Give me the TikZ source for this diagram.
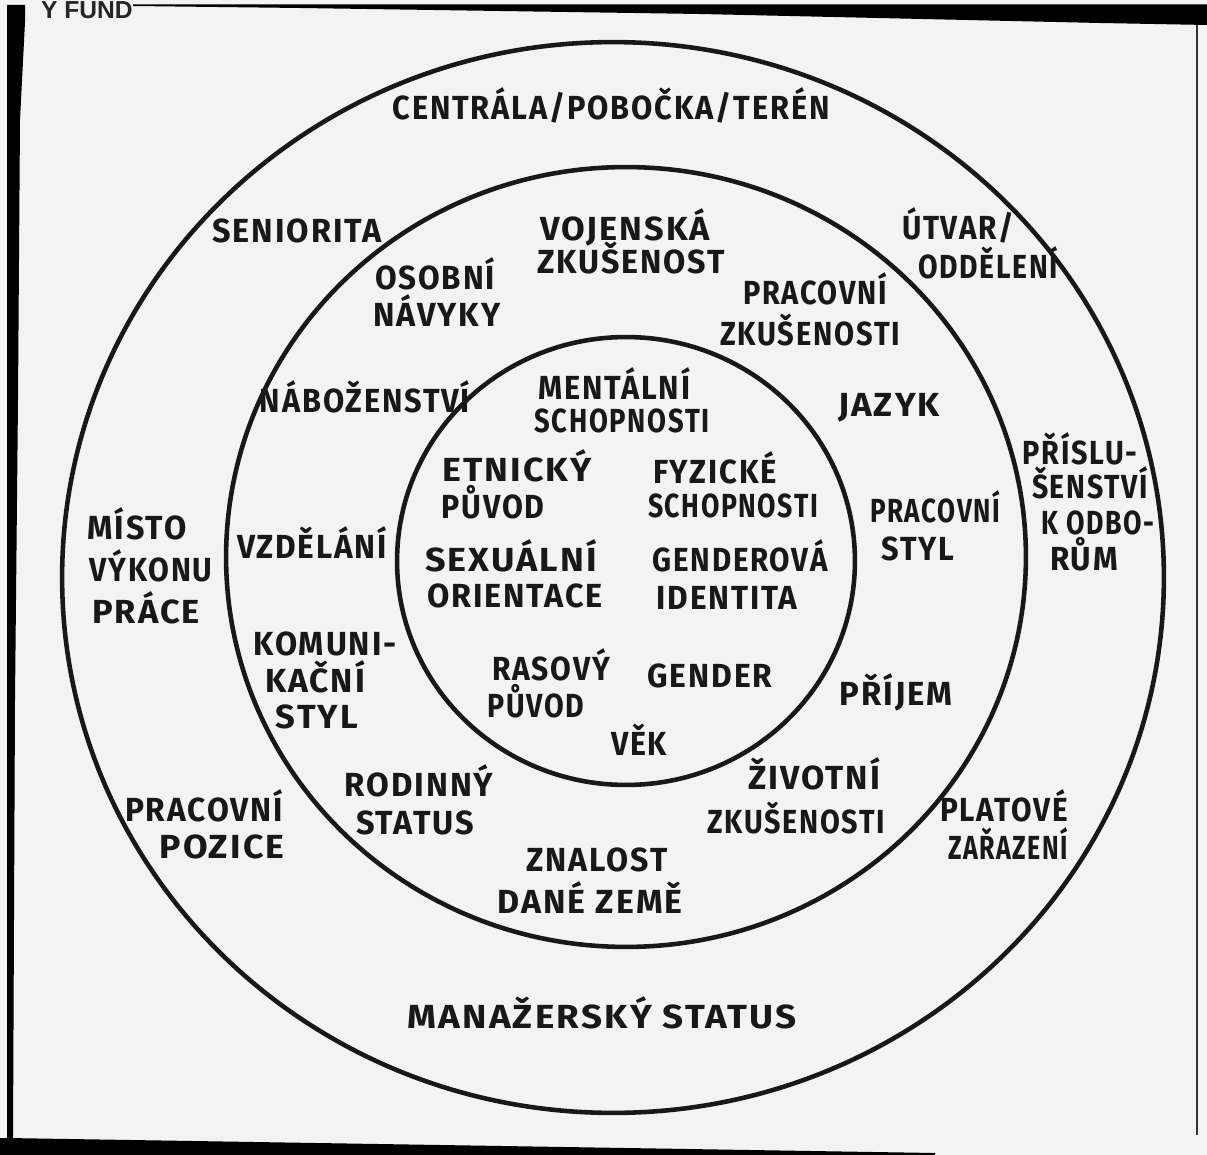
\documentclass[tikz,border=0pt]{standalone}
\usepackage{fontspec}
\usepackage{graphicx}
\setmainfont{Fira Sans}
\newfontfamily\hdrfont{Liberation Sans}
\newlength\pxu \setlength\pxu{0.02cm}
\newcommand\fw[2]{\resizebox{#1\pxu}{\height}{\addfontfeatures{LetterSpace=6}#2}}
\definecolor{paper}{RGB}{243,243,243}
\definecolor{ink}{RGB}{24,24,24}
\begin{document}
\begin{tikzpicture}[x=0.02cm,y=-0.02cm,
  lbl/.style={inner sep=0pt, anchor=base, text=ink, font=\fontsize{19}{23}\selectfont\bfseries},
  ring/.style={draw=ink, line width=2.6pt}]
\useasboundingbox (0,0) rectangle (1207,1155);
\clip (0,0) rectangle (1207,1155);
% paper and scan edges
\fill[paper] (0,0) rectangle (1207,1155);
\fill[black] (133,4.5) -- (1207,4.5) -- (1207,25) -- (1100,23) -- (700,14) -- (300,8) -- (133,6) -- cycle;
\fill[black] (7,5) -- (25,5) -- (25,22) -- (20,120) -- (18,400) -- (15,700) -- (13,1140) -- (7,1140) -- cycle;
\fill[black] (0,1138) -- (7,1138) -- (935,1153) -- (935,1155) -- (0,1155) -- cycle;
\draw[black!80, line width=1pt] (1197,25) -- (1197,1135);
\node[inner sep=0pt, anchor=base east, text=black!85, font=\hdrfont\fontsize{14}{16}\selectfont\bfseries] (hdr) at (133,19) {Y FUND};
% rings
\draw[ring] (613,577.5) ellipse [x radius=11.02cm, y radius=10.71cm];
\draw[ring] (626,557) ellipse [x radius=8cm, y radius=7.8cm];
\draw[ring] (626,561) ellipse [x radius=4.58cm, y radius=4.48cm];
% outer ring labels
\node[lbl] (cen) at (611,120) {\fw{437}{CENTRÁLA/POBOČKA/TERÉN}};
\node[lbl] (sen) at (297,243) {\fw{169}{SENIORITA}};
\node[lbl] (utv1) at (958,240) {\fw{112}{ÚTVAR/}};
\node[lbl] (utv2) at (988,279) {\fw{140}{ODDĚLENÍ}};
\node[lbl] (pri1) at (1080,465) {\fw{115}{PŘÍSLU-}};
\node[lbl] (pri2) at (1090,499) {\fw{116}{ŠENSTVÍ}};
\node[lbl] (pri3) at (1098,534) {\fw{113}{K ODBO-}};
\node[lbl] (pri4) at (1084,570) {\fw{68}{RŮM}};
\node[lbl] (mis1) at (137,540) {\fw{99}{MÍSTO}};
\node[lbl] (mis2) at (151,582) {\fw{123}{VÝKONU}};
\node[lbl] (mis3) at (146,623) {\fw{108}{PRÁCE}};
\node[lbl] (poz1) at (204,821) {\fw{158}{PRACOVNÍ}};
\node[lbl] (poz2) at (222,858) {\fw{125}{POZICE}};
\node[lbl] (pla1) at (1004,821) {\fw{128}{PLATOVÉ}};
\node[lbl] (pla2) at (1008,859) {\fw{120}{ZAŘAZENÍ}};
\node[lbl] (man) at (602,1028) {\fw{389}{MANAŽERSKÝ STATUS}};
% middle ring labels
\node[lbl] (voj1) at (625,241) {\fw{170}{VOJENSKÁ}};
\node[lbl] (voj2) at (631,274) {\fw{188}{ZKUŠENOST}};
\node[lbl] (oso1) at (435,290) {\fw{120}{OSOBNÍ}};
\node[lbl] (oso2) at (437,327) {\fw{127}{NÁVYKY}};
\node[lbl] (pzk1) at (815,305) {\fw{144}{PRACOVNÍ}};
\node[lbl] (pzk2) at (810,346) {\fw{180}{ZKUŠENOSTI}};
\node[lbl] (nab) at (365,413) {\fw{210}{NÁBOŽENSTVÍ}};
\node[lbl] (jaz) at (889,417) {\fw{102}{JAZYK}};
\node[lbl] (pst1) at (935,522) {\fw{130}{PRACOVNÍ}};
\node[lbl] (pst2) at (918,560) {\fw{73}{STYL}};
\node[lbl] (vzd) at (312,559) {\fw{150}{VZDĚLÁNÍ}};
\node[lbl] (kom1) at (325,655) {\fw{143}{KOMUNI-}};
\node[lbl] (kom2) at (315,692) {\fw{100}{KAČNÍ}};
\node[lbl] (kom3) at (317,728) {\fw{82}{STYL}};
\node[lbl] (pri) at (896,705) {\fw{113}{PŘÍJEM}};
\node[lbl] (rod1) at (419,796) {\fw{149}{RODINNÝ}};
\node[lbl] (rod2) at (415,834) {\fw{118}{STATUS}};
\node[lbl] (ziv1) at (814,789) {\fw{132}{ŽIVOTNÍ}};
\node[lbl] (ziv2) at (796,833) {\fw{178}{ZKUŠENOSTI}};
\node[lbl] (zna1) at (597,871) {\fw{141}{ZNALOST}};
\node[lbl] (zna2) at (590,913) {\fw{185}{DANÉ ZEMĚ}};
% inner circle labels
\node[lbl] (men1) at (614,400) {\fw{152}{MENTÁLNÍ}};
\node[lbl] (men2) at (622,432) {\fw{175}{SCHOPNOSTI}};
\node[lbl] (etn1) at (517,481) {\fw{150}{ETNICKÝ}};
\node[lbl] (etn2) at (493,519) {\fw{103}{PŮVOD}};
\node[lbl] (fyz1) at (715,483) {\fw{124}{FYZICKÉ}};
\node[lbl] (fyz2) at (733,517) {\fw{170}{SCHOPNOSTI}};
\node[lbl] (sex1) at (511,571) {\fw{172}{SEXUÁLNÍ}};
\node[lbl] (sex2) at (515,607) {\fw{176}{ORIENTACE}};
\node[lbl] (gid1) at (740,571) {\fw{175}{GENDEROVÁ}};
\node[lbl] (gid2) at (727,609) {\fw{141}{IDENTITA}};
\node[lbl] (ras1) at (551,680) {\fw{118}{RASOVÝ}};
\node[lbl] (ras2) at (536,717) {\fw{97}{PŮVOD}};
\node[lbl] (gen) at (710,687) {\fw{125}{GENDER}};
\node[lbl] (vek) at (639,755) {\fw{56}{VĚK}};
\end{tikzpicture}
\end{document}
